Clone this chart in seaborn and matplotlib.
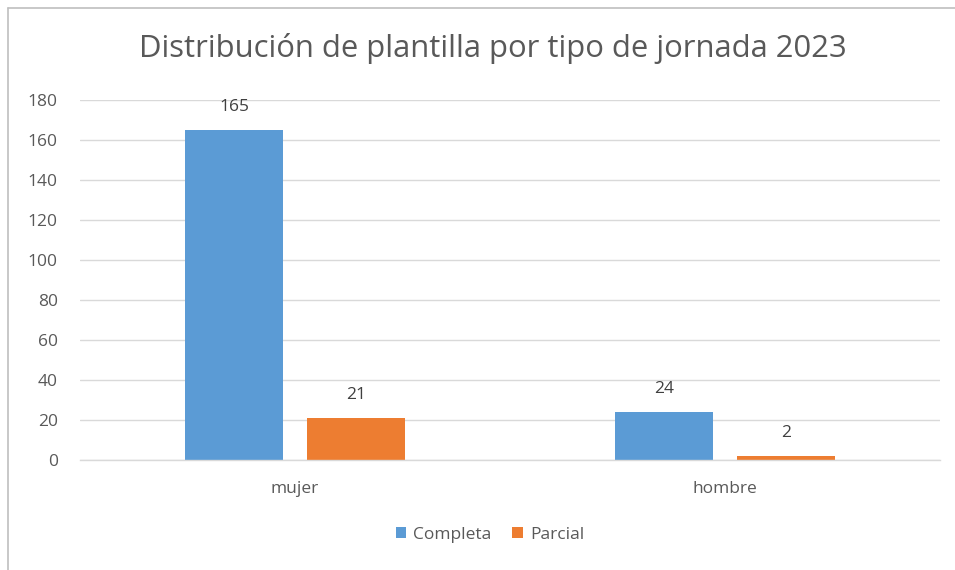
import matplotlib
matplotlib.use("Agg")
import matplotlib.pyplot as plt
import seaborn as sns
import pandas as pd
from matplotlib.lines import Line2D
from matplotlib.patches import Patch

categories = ["mujer", "hombre"]
series = ["Completa", "Parcial"]
completa = [165, 24]
parcial = [21, 2]
yticks = [0, 20, 40, 60, 80, 100, 120, 140, 160, 180]
title = "Distribución de plantilla por tipo de jornada 2023"

df = pd.DataFrame({
    "cat": categories * 2,
    "serie": [series[0]] * 2 + [series[1]] * 2,
    "valor": completa + parcial,
})

sns.set_theme(style="white")
plt.rcParams["font.family"] = ["Open Sans", "DejaVu Sans"]

W, H = 955, 570
fig = plt.figure(figsize=(W / 100, H / 100), dpi=100)
ax = fig.add_axes([80 / W, (H - 460) / H, 860 / W, 360 / H])

colors = {"Completa": "#5B9BD5", "Parcial": "#ED7D31"}
sns.barplot(data=df, x="cat", y="valor", hue="serie", order=categories,
            hue_order=series, palette=colors, width=0.567, gap=0.2,
            ax=ax, legend=False, saturation=1, linewidth=0)

FS = 12.5
ax.set_xlim(-0.5, 1.5)
ax.set_ylim(0, 180)
ax.set_yticks(yticks)
ax.set_yticklabels([str(t) for t in yticks], color="#595959", fontsize=FS)
ax.tick_params(axis="x", colors="#595959", labelsize=FS, length=0, pad=15)
ax.tick_params(axis="y", length=0, pad=16)
ax.set_xlabel("")
ax.set_ylabel("")
ax.grid(axis="y", color="#D9D9D9", linewidth=1)
ax.set_axisbelow(True)
for s in ["top", "right", "left"]:
    ax.spines[s].set_visible(False)
ax.spines["bottom"].set_color("#D9D9D9")
ax.spines["bottom"].set_linewidth(1)

for cont in ax.containers:
    ax.bar_label(cont, labels=[f"{int(v)}" for v in cont.datavalues],
                 padding=11, color="#404040", fontsize=FS)

fig.text(493 / W, 1 - 48 / H, title, ha="center", va="center",
         fontsize=22.3, color="#595959")

handles = [Patch(facecolor=colors[s], edgecolor="none") for s in series]
fig.legend(handles, series, loc="center", bbox_to_anchor=(490 / W, 1 - 535 / H),
           ncol=2, frameon=False, fontsize=FS, handlelength=0.6,
           handleheight=0.6, handletextpad=0.4, columnspacing=1.2,
           labelcolor="#595959")

# chart border (top and left visible)
fig.add_artist(Line2D([8 / W, 1.0], [1 - 8 / H, 1 - 8 / H], color="#BFBFBF", linewidth=1.2))
fig.add_artist(Line2D([8 / W, 8 / W], [0, 1 - 8 / H], color="#BFBFBF", linewidth=1.2))

fig.savefig("out.png", dpi=100, facecolor="white")
